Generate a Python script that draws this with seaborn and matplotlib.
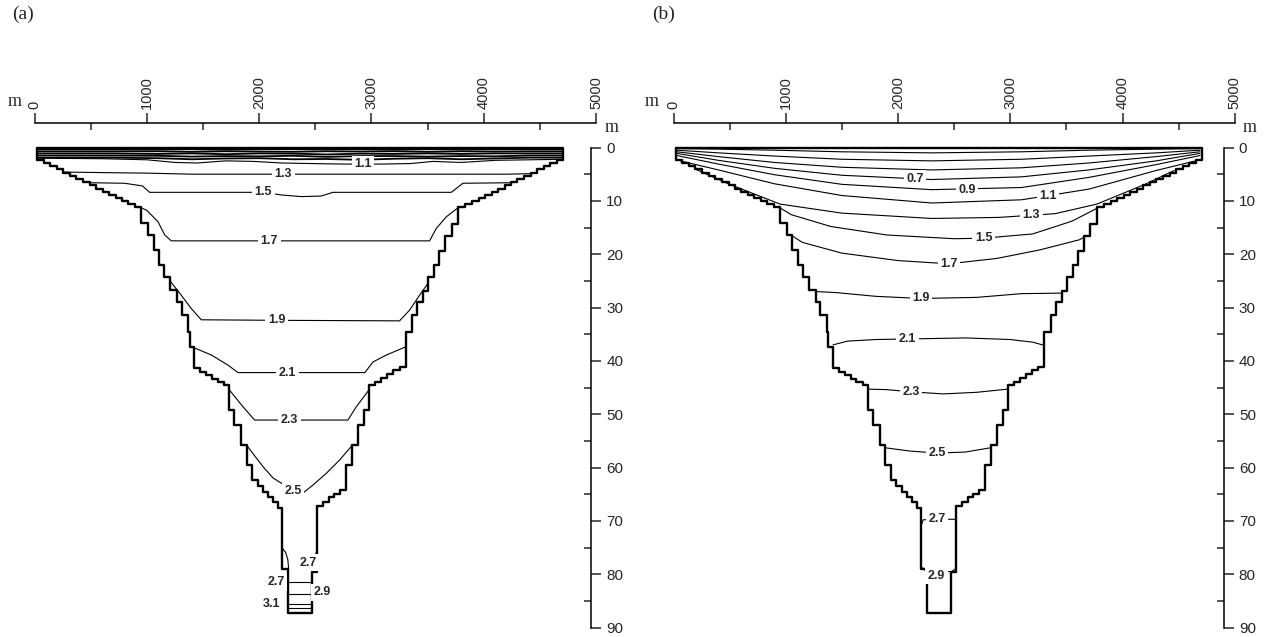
#!/usr/bin/env python3
# -*- coding: utf-8 -*-

"""
Perfiles de un lago: contornos dentro de la seccion transversal (a) y (b).
"""

import matplotlib
matplotlib.use('Agg')
import matplotlib.pyplot as plt
import seaborn as sns
import pandas as pd

# Perfil del lago: x de la pared (m) por capa y profundidad superior de la capa (m)
LEFT_X = [24, 80, 140, 195, 255, 315, 370, 430, 490, 545, 605, 660, 720, 780, 835, 895,
          948, 1007, 1060, 1111, 1156, 1209, 1265, 1309, 1363, 1380, 1422,
          1475, 1525, 1580, 1630, 1685, 1733, 1778, 1837, 1887, 1938,
          1985, 2035, 2080, 2125, 2165, 2207, 2260]
LEFT_TOP = [0, 2.3, 2.9, 3.5, 4.1, 4.7, 5.3, 5.9, 6.5, 7.1, 7.7, 8.3, 8.9, 9.5, 10.1, 10.6,
            11.2, 14.2, 16.4, 19.2, 22.0, 24.2, 26.7, 28.9, 31.4, 34.5, 37.4,
            41.4, 42.0, 42.7, 43.4, 44.0, 44.6, 49.2, 52.0, 55.8, 59.5,
            62.3, 63.4, 64.5, 65.5, 66.5, 67.6, 79.0]
RIGHT_X = [4705, 4650, 4590, 4535, 4475, 4420, 4360, 4300, 4245, 4185, 4130, 4070, 4010, 3955, 3895, 3835,
           3772, 3713, 3659, 3600, 3556, 3505, 3458, 3407, 3363, 3304,
           3250, 3195, 3140, 3085, 3030, 2978, 2933, 2883, 2824, 2771,
           2720, 2670, 2620, 2570, 2518, 2468]
RIGHT_TOP = [0, 2.3, 2.9, 3.5, 4.1, 4.7, 5.3, 5.9, 6.5, 7.1, 7.7, 8.3, 8.9, 9.5, 10.1, 10.6,
             11.2, 14.4, 16.6, 19.4, 22.0, 24.2, 26.9, 28.9, 31.4, 34.5,
             41.1, 41.8, 42.5, 43.2, 43.9, 44.6, 49.2, 52.0, 55.8, 59.5,
             64.2, 64.9, 65.6, 66.4, 67.2, 79.5]
BOTTOM = 87.2

X_TICKS = [0, 1000, 2000, 3000, 4000, 5000]
X_MINOR = [500, 1500, 2500, 3500, 4500]
Y_TICKS = [0, 10, 20, 30, 40, 50, 60, 70, 80, 90]
Y_MINOR = [5, 15, 25, 35, 45, 55, 65, 75, 85]

# (a) banda superior sin etiqueta
BAND_X = [24, 700, 1100, 1400, 1700, 2000, 2300, 2600, 2900, 3200, 3500, 3800, 4100, 4400, 4705]
BAND_D = [
    [0.3, 0.3, 0.35, 0.3, 0.4, 0.3, 0.3, 0.35, 0.3, 0.4, 0.3, 0.35, 0.3, 0.3, 0.3],
    [0.7, 0.7, 0.7, 0.8, 0.7, 0.75, 0.8, 0.7, 0.75, 0.7, 0.8, 0.7, 0.75, 0.7, 0.7],
    [1.1, 1.1, 1.2, 1.1, 1.25, 1.1, 1.15, 1.3, 1.15, 1.2, 1.1, 1.2, 1.1, 1.1, 1.1],
    [1.5, 1.5, 1.55, 1.7, 1.6, 1.65, 1.55, 1.75, 1.6, 1.6, 1.7, 1.6, 1.65, 1.5, 1.5],
    [1.9, 1.9, 2.0, 2.2, 2.05, 2.0, 2.2, 2.15, 2.3, 2.1, 2.0, 2.2, 2.05, 1.9, 1.9],
]

# (a) isolineas
A_LINES_X = [
    [24, 600, 1000, 1250, 1450, 1700, 1950, 2200, 2450, 2750, 2923, 3100, 3350, 3550, 3800, 4100, 4400, 4705],
    [258, 600, 1000, 1400, 2210, 3000, 3800, 4200, 4415],
    [495, 800, 960, 1024, 1500, 2035, 2200, 2375, 2550, 2657, 3200, 3711, 3760, 3814, 4240],
    [950, 1000, 1098, 1158, 1217, 2090, 2700, 3518, 3576, 3666, 3770],
    [1212, 1306, 1395, 1484, 2152, 3250, 3339, 3428, 3502],
    [1425, 1573, 1722, 1811, 2251, 2941, 3014, 3133, 3302],
    [1736, 1855, 1959, 2270, 2790, 2865, 2976],
    [1890, 2036, 2125, 2226, 2300, 2389, 2478, 2597, 2716, 2822],
    [2207, 2235, 2255, 2262],
    [2518, 2505, 2495],
    [2260, 2468],
    [2260, 2468],
    [2260, 2468],
    [2260, 2468],
]
A_LINES_D = [
    [2.0, 2.1, 2.3, 2.8, 2.9, 2.5, 2.6, 2.9, 3.0, 3.1, 3.1, 3.1, 3.0, 2.6, 2.8, 2.4, 2.3, 2.2],
    [4.6, 4.7, 4.8, 5.0, 5.0, 5.0, 5.0, 5.0, 4.9],
    [6.6, 6.7, 7.2, 8.4, 8.4, 8.4, 8.9, 9.2, 9.1, 8.4, 8.4, 8.4, 7.6, 6.7, 6.6],
    [11.3, 11.8, 13.9, 16.4, 17.5, 17.5, 17.5, 17.5, 15.2, 13.0, 11.3],
    [25.2, 27.7, 30.2, 32.3, 32.4, 32.5, 30.5, 27.7, 25.5],
    [37.6, 38.9, 40.8, 42.2, 42.2, 42.2, 40.2, 38.9, 37.4],
    [45.5, 48.6, 51.1, 51.1, 51.1, 48.6, 45.5],
    [55.9, 59.9, 62.0, 63.3, 64.4, 64.8, 63.3, 61.1, 58.6, 56.0],
    [75.2, 75.9, 77.3, 79.0],
    [75.4, 76.1, 77.0],
    [81.4, 81.4],
    [83.7, 83.7],
    [85.6, 85.6],
    [86.3, 86.3],
]
A_LABELS = ['1.1', '1.3', '1.5', '1.7', '1.9', '2.1', '2.3', '2.5', '2.7', '2.7', '2.9', '3.1']
A_LAB_X = [2923, 2215, 2037, 2090, 2155, 2251, 2270, 2300, 2436, 2148, 2564, 2110]
A_LAB_D = [3.1, 5.0, 8.4, 17.5, 32.4, 42.2, 51.1, 64.4, 77.9, 81.5, 83.4, 85.6]

# (b) isolineas
B_TOP_X = [30, 400, 900, 1500, 2300, 3100, 3700, 4300, 4690]
B_LINES_X = [
    B_TOP_X, B_TOP_X, B_TOP_X, B_TOP_X, B_TOP_X,
    [60, 400, 900, 1500, 2300, 3100, 3700, 4300, 4650],
    [200, 500, 948, 1500, 2300, 2900, 3400, 3772, 4200, 4460],
    [948, 1050, 1400, 1900, 2500, 2762, 3200, 3550, 3772],
    [1060, 1150, 1500, 2000, 2453, 2879, 3262, 3615, 3659],
    [1265, 1450, 1800, 2202, 2700, 3100, 3458],
    [1422, 1550, 1800, 2084, 2600, 3000, 3200, 3304],
    [1733, 1900, 2114, 2400, 2700, 2978],
    [1887, 2100, 2349, 2600, 2824],
    [2207, 2225, 2349, 2500, 2518],
    [2207, 2240, 2343, 2480, 2518],
]
B_LINES_D = [
    [0.2, 0.3, 0.5, 0.8, 1.0, 0.8, 0.5, 0.3, 0.2],
    [0.5, 1.0, 1.6, 2.2, 2.5, 2.2, 1.6, 1.0, 0.5],
    [0.8, 1.7, 2.8, 3.7, 4.2, 3.8, 2.9, 1.7, 0.8],
    [1.1, 2.4, 3.9, 5.2, 6.0, 5.5, 4.2, 2.5, 1.1],
    [1.5, 3.1, 5.1, 6.9, 7.9, 7.5, 5.6, 3.2, 1.5],
    [2.5, 4.2, 6.8, 9.0, 10.4, 9.8, 7.8, 4.3, 2.5],
    [4.1, 6.9, 10.6, 12.3, 13.3, 13.1, 12.4, 10.6, 6.9, 4.3],
    [11.3, 12.6, 14.8, 16.4, 17.1, 17.0, 16.2, 13.8, 11.4],
    [16.6, 17.8, 19.8, 21.2, 21.8, 20.8, 19.2, 17.3, 16.8],
    [27.0, 27.2, 27.9, 28.3, 28.1, 27.4, 27.3],
    [37.0, 36.3, 36.0, 35.9, 35.7, 36.0, 36.5, 37.1],
    [45.3, 45.4, 45.8, 46.2, 45.9, 45.3],
    [56.3, 56.9, 57.3, 57.1, 56.3],
    [70.8, 69.8, 69.7, 69.7, 69.9],
    [78.6, 79.3, 79.6, 79.5, 78.9],
]
B_LABELS = ['0.7', '0.9', '1.1', '1.3', '1.5', '1.7', '1.9', '2.1', '2.3', '2.5', '2.7', '2.9']
B_LAB_X = [2152, 2614, 3336, 3188, 2762, 2453, 2202, 2084, 2114, 2349, 2349, 2343]
B_LAB_D = [5.9, 7.9, 9.0, 12.7, 17.0, 21.8, 28.3, 35.9, 45.8, 57.3, 69.7, 80.3]

LABEL_FONT = ['Liberation Sans Narrow', 'Liberation Sans', 'DejaVu Sans']
SERIF = ['Liberation Serif', 'DejaVu Serif']


def profile_frame() -> pd.DataFrame:
    """Contorno escalonado del lago: pared izquierda, fondo, pared derecha y superficie."""
    r_bot = RIGHT_TOP[1:] + [BOTTOM]
    xs = LEFT_X + RIGHT_X[::-1] + [RIGHT_X[0], LEFT_X[0]]
    ds = LEFT_TOP + r_bot[::-1] + [0, 0]
    return pd.DataFrame({'x': xs, 'd': ds})


def setup_axes(ax, spine_x, m_left, m_right):
    ax.set_xlim(0, 5000)
    ax.set_ylim(90, -4.6)
    ax.spines['left'].set_visible(False)
    ax.spines['bottom'].set_visible(False)
    ax.spines['top'].set_bounds(0, 5000)
    ax.spines['right'].set_position(('data', spine_x))
    ax.spines['right'].set_bounds(0, 90)
    for s in ['top', 'right']:
        ax.spines[s].set_linewidth(1.1)
        ax.spines[s].set_color('black')
    ax.xaxis.set_ticks_position('top')
    ax.set_xticks(X_TICKS)
    ax.set_xticks(X_MINOR, minor=True)
    ax.set_xticklabels([str(t) for t in X_TICKS])
    ax.tick_params(axis='x', which='major', direction='out', length=7, width=1.1,
                   labelrotation=90, labelsize=10.5, pad=3)
    ax.tick_params(axis='x', which='minor', direction='in', length=5, width=1.1)
    ax.yaxis.set_ticks_position('right')
    ax.set_yticks(Y_TICKS)
    ax.set_yticks(Y_MINOR, minor=True)
    ax.set_yticklabels([str(t) for t in Y_TICKS])
    ax.tick_params(axis='y', which='major', direction='out', length=7, width=1.1,
                   labelsize=11, pad=4)
    ax.tick_params(axis='y', which='minor', direction='in', length=5, width=1.1)
    ax.set_xlabel('')
    ax.set_ylabel('')
    ax.text(m_left[0], m_left[1], 'm', family=SERIF, fontsize=13, ha='center', va='center', clip_on=False)
    ax.text(m_right[0], m_right[1], 'm', family=SERIF, fontsize=13, ha='center', va='center', clip_on=False)


def draw_lines(ax, xs_list, ds_list, lw=0.8):
    for xs, ds in zip(xs_list, ds_list):
        df = pd.DataFrame({'x': xs, 'd': ds})
        sns.lineplot(data=df, x='x', y='d', sort=False, estimator=None, color='black',
                     linewidth=lw, ax=ax, legend=False)


def draw_labels(ax, labels, lx, ld):
    for t, x, d in zip(labels, lx, ld):
        ax.text(x, d, t, family=LABEL_FONT, fontweight='bold', fontsize=9, ha='center', va='center',
                zorder=5, bbox=dict(boxstyle='square,pad=0.2', facecolor='white', edgecolor='none'))


def draw_panel(ax, lines_x, lines_d, labels, lx, ld, band=False):
    if band:
        draw_lines(ax, [BAND_X] * len(BAND_D), BAND_D, lw=1.3)
    draw_lines(ax, lines_x, lines_d)
    prof = profile_frame()
    sns.lineplot(data=prof, x='x', y='d', sort=False, estimator=None, color='black',
                 linewidth=1.7, drawstyle='steps-pre', ax=ax, legend=False, zorder=4)
    draw_labels(ax, labels, lx, ld)


sns.set_style('white')
plt.rcParams['font.family'] = ['Liberation Sans', 'DejaVu Sans']

fig = plt.figure(figsize=(12.68, 6.37), dpi=100)
ax_a = fig.add_axes([34.7 / 1268, 9.5 / 637, 561.3 / 1268, 504.5 / 637])
ax_b = fig.add_axes([673.5 / 1268, 9.5 / 637, 561.3 / 1268, 504.5 / 637])

draw_panel(ax_a, A_LINES_X, A_LINES_D, A_LABELS, A_LAB_X, A_LAB_D, band=True)
draw_panel(ax_b, B_LINES_X, B_LINES_D, B_LABELS, B_LAB_X, B_LAB_D)

setup_axes(ax_a, 4955, (-176, -8.7), (5143, -3.8))
setup_axes(ax_b, 4900, (-190, -8.7), (5134, -3.8))

fig.text(12 / 1268, 1 - 6 / 637, '(a)', family=SERIF, fontsize=14, ha='left', va='top')
fig.text(652 / 1268, 1 - 6 / 637, '(b)', family=SERIF, fontsize=14, ha='left', va='top')

fig.savefig('out.png', dpi=100)
plt.close(fig)
